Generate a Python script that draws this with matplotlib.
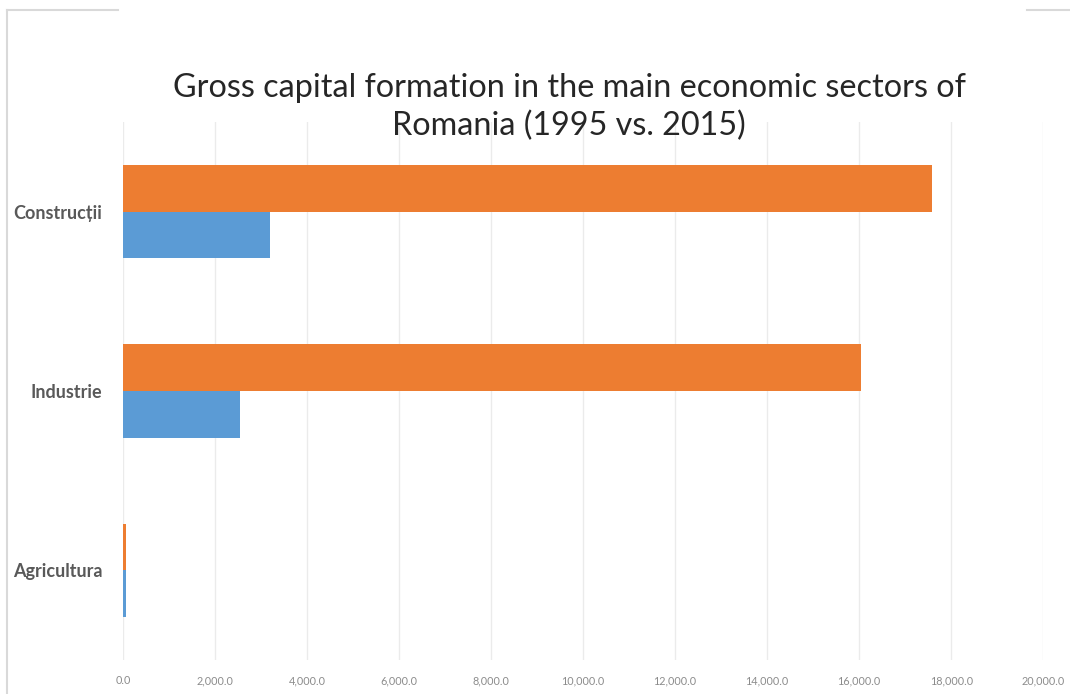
import numpy as np
import matplotlib
matplotlib.use("Agg")
import matplotlib.pyplot as plt
from matplotlib.lines import Line2D
from matplotlib.ticker import FuncFormatter

# gross capital formation by sector, 1995 vs 2015
sectors = ["Agricultura", "Industrie", "Construcții"]
values_1995 = [70, 2540, 3200]
values_2015 = [60, 16040, 17590]
x_ticks = list(range(0, 20001, 2000))

blue = "#5B9BD5"
orange = "#ED7D31"

fig = plt.figure(figsize=(10.7, 6.94), dpi=100)
ax = fig.add_axes([0.115, 0.049, 0.86, 0.775])

y = np.arange(len(sectors))
h = 0.26
ax.barh(y - h / 2, values_1995, height=h, color=blue, zorder=3)
ax.barh(y + h / 2, values_2015, height=h, color=orange, zorder=3)

ax.set_xlim(0, 20000)
ax.set_ylim(-0.5, 2.5)
ax.set_xticks(x_ticks)
ax.xaxis.set_major_formatter(FuncFormatter(lambda v, p: "{:,.1f}".format(v)))
ax.set_yticks(y)
ax.set_yticklabels(sectors, fontfamily="Lato", fontsize=13, color="#595959",
                   fontweight="bold")
for lab in ax.get_xticklabels():
    lab.set_fontsize(7.8)
    lab.set_color("#8c8c8c")
    lab.set_fontfamily("Lato")
ax.tick_params(axis="both", length=0)
ax.tick_params(axis="x", pad=11)
ax.tick_params(axis="y", pad=15)
ax.grid(axis="x", color="#ebebeb", linewidth=1, zorder=0)
for s in ax.spines.values():
    s.set_visible(False)

fig.text(0.532, 0.846, "Gross capital formation in the main economic sectors of\nRomania (1995 vs. 2015)",
         ha="center", va="center", fontsize=23.3, fontfamily="Lato",
         color="#262626", linespacing=1.3)

# light frame round the chart
fig.add_artist(Line2D([0.007, 0.007], [0.0, 0.986], color="#d9d9d9", lw=1.5))
fig.add_artist(Line2D([0.007, 0.11], [0.986, 0.986], color="#d9d9d9", lw=1.5))
fig.add_artist(Line2D([0.96, 1.0], [0.986, 0.986], color="#d9d9d9", lw=1.5))

fig.savefig("out.png", dpi=100)
